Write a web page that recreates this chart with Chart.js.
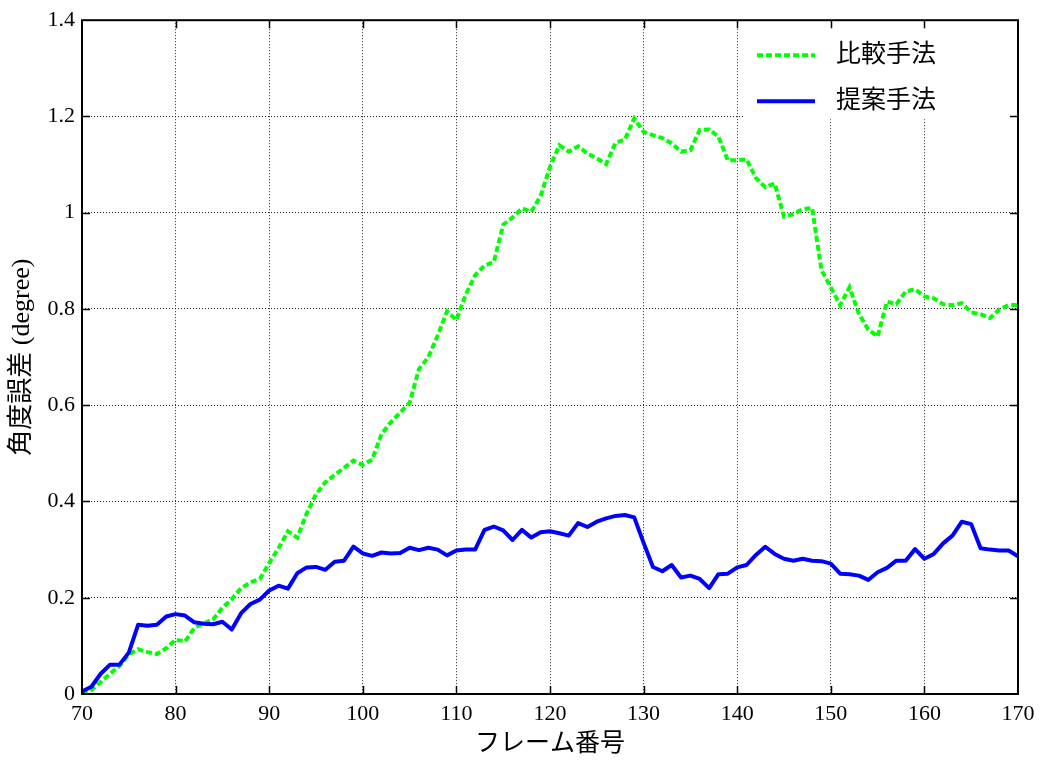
<!DOCTYPE html>
<html>
<head>
<meta charset="utf-8">
<script src="https://cdn.jsdelivr.net/npm/chart.js@4/dist/chart.umd.min.js"></script>
<style>
  html, body { margin: 0; padding: 0; background: #fff; }
  #wrap { width: 1046px; height: 760px; }
</style>
</head>
<body>
<div id="wrap"><canvas id="chartFrames" width="1046" height="760"></canvas></div>
<script>
// フレーム番号 (x軸)
const frames = [
  70, 71, 72, 73, 74, 75, 76, 77, 78, 79,
  80, 81, 82, 83, 84, 85, 86, 87, 88, 89,
  90, 91, 92, 93, 94, 95, 96, 97, 98, 99,
  100, 101, 102, 103, 104, 105, 106, 107, 108, 109,
  110, 111, 112, 113, 114, 115, 116, 117, 118, 119,
  120, 121, 122, 123, 124, 125, 126, 127, 128, 129,
  130, 131, 132, 133, 134, 135, 136, 137, 138, 139,
  140, 141, 142, 143, 144, 145, 146, 147, 148, 149,
  150, 151, 152, 153, 154, 155, 156, 157, 158, 159,
  160, 161, 162, 163, 164, 165, 166, 167, 168, 169,
  170
];

// 比較手法
const comparisonErr = [
  0.000, 0.008, 0.025, 0.042, 0.058, 0.082, 0.093, 0.087, 0.083, 0.095,
  0.113, 0.109, 0.137, 0.147, 0.155, 0.179, 0.197, 0.220, 0.232, 0.239,
  0.272, 0.303, 0.338, 0.325, 0.375, 0.415, 0.440, 0.455, 0.470, 0.485,
  0.476, 0.487, 0.540, 0.565, 0.585, 0.605, 0.675, 0.700, 0.745, 0.795,
  0.777, 0.830, 0.870, 0.890, 0.898, 0.975, 0.990, 1.009, 1.002, 1.035,
  1.095, 1.140, 1.127, 1.138, 1.123, 1.113, 1.101, 1.145, 1.152, 1.196,
  1.168, 1.161, 1.155, 1.144, 1.127, 1.130, 1.172, 1.173, 1.158, 1.109,
  1.109, 1.111, 1.072, 1.053, 1.061, 0.992, 0.997, 1.007, 1.010, 0.881,
  0.845, 0.808, 0.845, 0.790, 0.757, 0.743, 0.815, 0.810, 0.836, 0.841,
  0.826, 0.822, 0.810, 0.808, 0.812, 0.793, 0.789, 0.781, 0.799, 0.808,
  0.808
];

// 提案手法
const proposedErr = [
  0.005, 0.015, 0.042, 0.061, 0.061, 0.086, 0.144, 0.142, 0.144, 0.161,
  0.166, 0.163, 0.149, 0.146, 0.145, 0.150, 0.134, 0.168, 0.187, 0.196,
  0.215, 0.225, 0.219, 0.251, 0.263, 0.264, 0.258, 0.275, 0.277, 0.306,
  0.292, 0.287, 0.294, 0.292, 0.293, 0.304, 0.299, 0.304, 0.300, 0.288,
  0.298, 0.300, 0.300, 0.341, 0.348, 0.340, 0.320, 0.341, 0.325, 0.336,
  0.338, 0.334, 0.329, 0.355, 0.347, 0.358, 0.365, 0.370, 0.372, 0.367,
  0.314, 0.264, 0.255, 0.268, 0.242, 0.246, 0.239, 0.220, 0.249, 0.250,
  0.263, 0.268, 0.289, 0.306, 0.291, 0.281, 0.277, 0.281, 0.277, 0.276,
  0.271, 0.250, 0.249, 0.246, 0.237, 0.253, 0.262, 0.277, 0.277, 0.301,
  0.281, 0.291, 0.313, 0.329, 0.358, 0.353, 0.303, 0.300, 0.298, 0.298,
  0.286
];

const seriesNames = ['比較手法', '提案手法'];
const xTitle = 'フレーム番号';
const yTitle = '角度誤差 (degree)';

const FONT = '"Liberation Serif", "Noto Sans CJK JP", serif';

// 枠線・内向きの目盛り・凡例 (matplotlib風)
const framePlugin = {
  id: 'frameTicksLegend',
  afterDraw(chart) {
    const { ctx, chartArea: a, scales } = chart;
    const xs = scales.x, ys = scales.y;
    ctx.save();

    // 凡例の背景 (グリッドを隠す)
    const boxW = 273, boxH = 98;
    ctx.fillStyle = '#fff';
    ctx.fillRect(a.right - boxW, a.top + 1, boxW - 1, boxH);

    // 目盛り
    const tl = 8;
    ctx.strokeStyle = '#000';
    ctx.lineWidth = 1.5;
    ctx.beginPath();
    xs.ticks.forEach(t => {
      if (t.value <= xs.min || t.value >= xs.max) return;
      const px = Math.round(xs.getPixelForValue(t.value)) + 0.5;
      ctx.moveTo(px, a.bottom); ctx.lineTo(px, a.bottom - tl);
      ctx.moveTo(px, a.top); ctx.lineTo(px, a.top + tl);
    });
    ys.ticks.forEach(t => {
      if (t.value <= ys.min || t.value >= ys.max) return;
      const py = Math.round(ys.getPixelForValue(t.value)) + 0.5;
      ctx.moveTo(a.left, py); ctx.lineTo(a.left + tl, py);
      ctx.moveTo(a.right, py); ctx.lineTo(a.right - tl, py);
    });
    ctx.stroke();

    // 枠
    ctx.lineWidth = 2;
    ctx.strokeRect(a.left, a.top, a.right - a.left, a.bottom - a.top);

    // 凡例
    const lx0 = a.right - 261, lx1 = a.right - 203, tx = a.right - 182;
    const rows = [a.top + 35, a.top + 81];
    chart.data.datasets.forEach((ds, i) => {
      const yy = rows[i];
      ctx.strokeStyle = ds.borderColor;
      ctx.lineWidth = ds.borderWidth;
      ctx.lineCap = 'butt';
      ctx.setLineDash(ds.borderDash || []);
      ctx.beginPath();
      ctx.moveTo(lx0, yy); ctx.lineTo(lx1, yy);
      ctx.stroke();
      ctx.setLineDash([]);
      ctx.fillStyle = '#000';
      ctx.font = '25px ' + FONT;
      ctx.textBaseline = 'middle';
      ctx.textAlign = 'left';
      ctx.fillText(ds.label, tx, yy);
    });
    ctx.restore();
  }
};

const fmt = v => String(Number(v.toFixed(1)));

new Chart(document.getElementById('chartFrames').getContext('2d'), {
  type: 'line',
  data: {
    labels: frames,
    datasets: [
      {
        label: seriesNames[0],
        data: comparisonErr,
        borderColor: '#00ff00',
        borderWidth: 4,
        borderDash: [6, 3],
        borderCapStyle: 'butt',
        pointRadius: 0,
        tension: 0,
        fill: false,
        order: 1
      },
      {
        label: seriesNames[1],
        data: proposedErr,
        borderColor: '#0000ff',
        borderWidth: 4,
        borderJoinStyle: 'round',
        pointRadius: 0,
        tension: 0,
        fill: false,
        order: 0
      }
    ]
  },
  options: {
    responsive: false,
    animation: false,
    devicePixelRatio: 1,
    layout: { padding: { left: 0, top: 20, right: 28, bottom: 0 } },
    plugins: {
      legend: { display: false },
      tooltip: { enabled: false }
    },
    scales: {
      x: {
        type: 'linear',
        min: 70,
        max: 170,
        afterFit(scale) { scale.height = 66; },
        ticks: {
          stepSize: 10,
          padding: 7,
          color: '#000',
          font: { family: FONT, size: 22 },
          maxRotation: 0,
          callback: fmt
        },
        grid: { color: 'rgba(0,0,0,0.85)', lineWidth: 1, drawTicks: false },
        border: { display: false, dash: [1, 2] },
        title: {
          display: true,
          text: xTitle,
          color: '#000',
          font: { family: FONT, size: 25 },
          padding: { top: 0, bottom: 1 }
        }
      },
      y: {
        min: 0,
        max: 1.4,
        afterFit(scale) { scale.width = 82; },
        ticks: {
          stepSize: 0.2,
          padding: 7,
          color: '#000',
          font: { family: FONT, size: 22 },
          callback: fmt
        },
        grid: { color: 'rgba(0,0,0,0.85)', lineWidth: 1, drawTicks: false },
        border: { display: false, dash: [1, 2] },
        title: {
          display: true,
          text: yTitle,
          color: '#000',
          font: { family: FONT, size: 26 },
          padding: { top: 7, bottom: 0 }
        }
      }
    }
  },
  plugins: [framePlugin]
});
</script>
</body>
</html>
